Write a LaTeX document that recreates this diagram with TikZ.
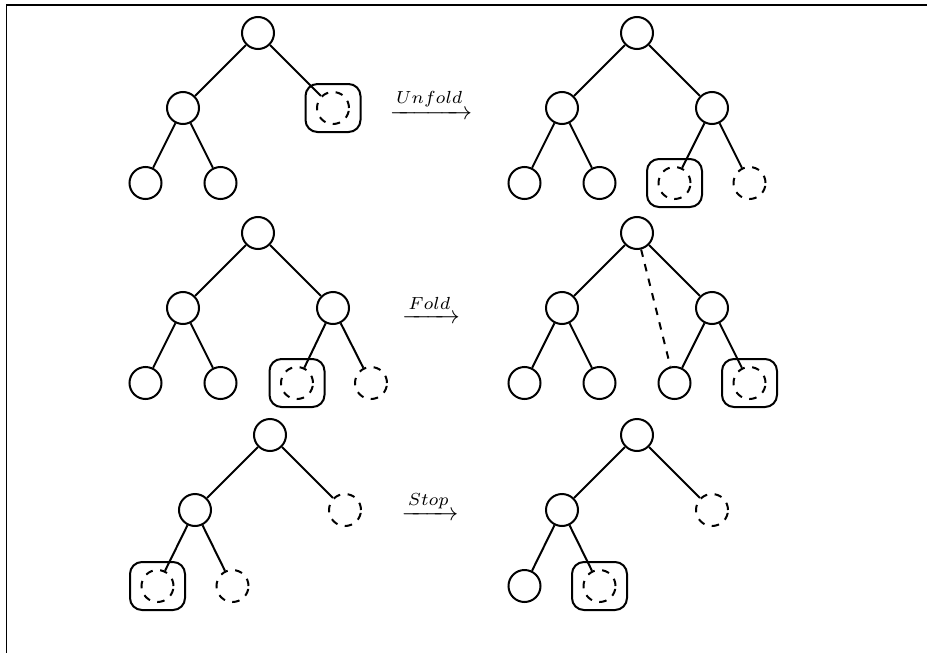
\documentclass[tikz,border=0pt]{standalone}
\usepackage{amsmath,amssymb}

\begin{document}
\begin{tikzpicture}[x=0.4pt, y=-0.4pt, thick,
    vertex/.style={circle, draw, minimum size=12.8pt, inner sep=0pt},
    hole/.style={vertex, dashed},
    focus/.style={draw, solid, rounded corners=4.8pt, minimum width=22pt, minimum height=19.2pt, inner sep=0pt},
    move/.style={inner sep=0pt}]
  \useasboundingbox (0,0) rectangle (927,653);
  \draw[line width=0.5pt] (6.5,653) |- (927,5);

  % Unfold
  \node[vertex] (b1) at (258,33) {};
  \node[vertex] (b1L) at (183,108) {};
  \node[hole] (b1R) at (333,108) {};
  \node[focus] (b1Rbox) at (333,108) {};
  \node[vertex] (b1LL) at (145.5,183) {};
  \node[vertex] (b1LR) at (220.5,183) {};
  \draw (b1) -- (b1L) (b1) -- (b1R) (b1L) -- (b1LL) (b1L) -- (b1LR);

  \node[move] (m1) at (431,104) {$\xrightarrow{Unfold}$};

  \node[vertex] (a1) at (637,33) {};
  \node[vertex] (a1L) at (562,108) {};
  \node[vertex] (a1R) at (712,108) {};
  \node[vertex] (a1LL) at (524.5,183) {};
  \node[vertex] (a1LR) at (599.5,183) {};
  \node[hole] (a1RL) at (674.5,183) {};
  \node[focus] (a1RLbox) at (674.5,183) {};
  \node[hole] (a1RR) at (749.5,183) {};
  \draw (a1) -- (a1L) (a1) -- (a1R) (a1L) -- (a1LL) (a1L) -- (a1LR)
        (a1R) -- (a1RL) (a1R) -- (a1RR);

  % Fold
  \node[vertex] (b2) at (258,233) {};
  \node[vertex] (b2L) at (183,308) {};
  \node[vertex] (b2R) at (333,308) {};
  \node[vertex] (b2LL) at (145.5,383) {};
  \node[vertex] (b2LR) at (220.5,383) {};
  \node[hole] (b2RL) at (297,383) {};
  \node[focus] (b2RLbox) at (297,383) {};
  \node[hole] (b2RR) at (371,383) {};
  \draw (b2) -- (b2L) (b2) -- (b2R) (b2L) -- (b2LL) (b2L) -- (b2LR)
        (b2R) -- (b2RL) (b2R) -- (b2RR);

  \node[move] (m2) at (431,309) {$\xrightarrow{Fold}$};

  \node[vertex] (a2) at (637,233) {};
  \node[vertex] (a2L) at (562,308) {};
  \node[vertex] (a2R) at (712,308) {};
  \node[vertex] (a2LL) at (524.5,383) {};
  \node[vertex] (a2LR) at (599.5,383) {};
  \node[vertex] (a2RL) at (674.5,383) {};
  \node[hole] (a2RR) at (749.5,383) {};
  \node[focus] (a2RRbox) at (749.5,383) {};
  \draw (a2) -- (a2L) (a2) -- (a2R) (a2L) -- (a2LL) (a2L) -- (a2LR)
        (a2R) -- (a2RL) (a2R) -- (a2RR);
  \draw[dashed] (a2) -- (a2RL);

  % Stop
  \node[vertex] (b3) at (270,435) {};
  \node[vertex] (b3L) at (195,510) {};
  \node[hole] (b3R) at (345,510) {};
  \node[hole] (b3LL) at (157.5,586) {};
  \node[focus] (b3LLbox) at (157.5,586) {};
  \node[hole] (b3LR) at (232.5,586) {};
  \draw (b3) -- (b3L) (b3) -- (b3R) (b3L) -- (b3LL) (b3L) -- (b3LR);

  \node[move] (m3) at (430,506) {$\xrightarrow{Stop}$};

  \node[vertex] (a3) at (637,435) {};
  \node[vertex] (a3L) at (562,510) {};
  \node[hole] (a3R) at (712,510) {};
  \node[vertex] (a3LL) at (524.5,586) {};
  \node[hole] (a3LR) at (599.5,586) {};
  \node[focus] (a3LRbox) at (599.5,586) {};
  \draw (a3) -- (a3L) (a3) -- (a3R) (a3L) -- (a3LL) (a3L) -- (a3LR);
\end{tikzpicture}
\end{document}
